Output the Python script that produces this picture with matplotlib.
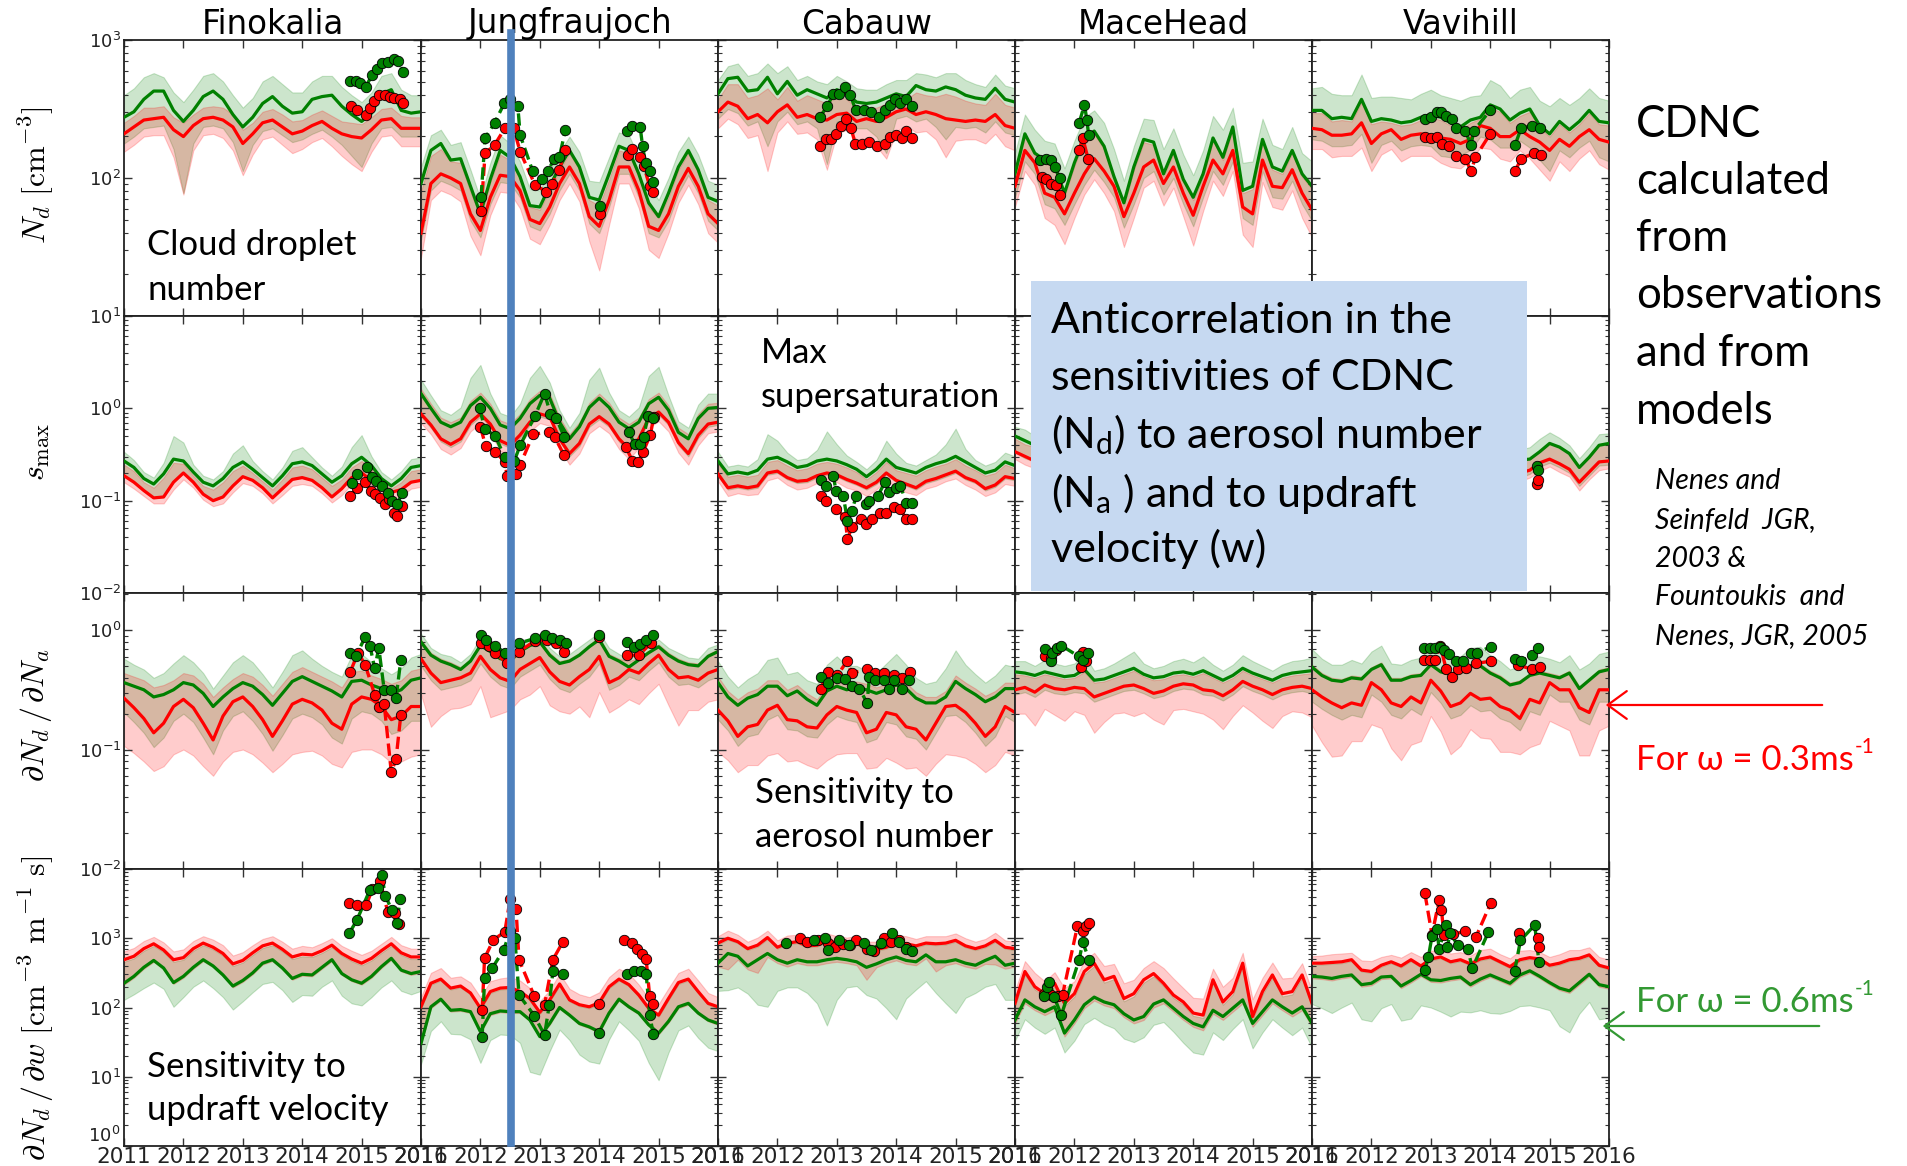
import numpy as np
import matplotlib
matplotlib.use("Agg")
import matplotlib.pyplot as plt
from matplotlib.lines import Line2D
from matplotlib.patches import Rectangle, FancyArrowPatch
from matplotlib.ticker import LogLocator, NullFormatter

plt.rcParams['mathtext.rm'] = 'Lato'
plt.rcParams['mathtext.it'] = 'Lato:italic'
plt.rcParams['mathtext.bf'] = 'Lato:bold'

W, H = 1907, 1166

# bi-monthly model output, Jan 2011 .. Jan 2016
months = 2011 + np.arange(31) / 6

sites = ['fin', 'jun', 'cab', 'mac', 'vav']
titles = ['Finokalia', 'Jungfraujoch', 'Cabauw', 'MaceHead', 'Vavihill']
quantities = ['nd', 'smax', 'sna', 'snw']

# all model values are log10; *_dn / *_up give the log10 spread of the shaded range
# ---------------- N_d [cm-3] ----------------
nd_fin_red = [2.32,2.37,2.42,2.43,2.44,2.35,2.30,2.38,2.43,2.44,2.42,2.37,2.25,2.32,2.40,2.42,2.37,2.32,2.34,2.38,2.41,2.36,2.32,2.30,2.29,2.35,2.42,2.43,2.36,2.36,2.36]
nd_fin_grn = [2.44,2.48,2.57,2.63,2.63,2.49,2.41,2.49,2.59,2.63,2.57,2.46,2.37,2.44,2.54,2.59,2.52,2.47,2.48,2.57,2.59,2.60,2.52,2.46,2.41,2.47,2.61,2.64,2.49,2.47,2.48]
nd_fin_red_up = [.08,.08,.09,.08,.08,.09,.10,.08,.08,.08,.09,.09,.10,.08,.08,.08,.09,.09,.08,.08,.08,.09,.09,.10,.10,.09,.08,.08,.09,.08,.08]
nd_fin_red_dn = [.13,.13,.12,.12,.13,.20,.42,.18,.12,.12,.13,.17,.23,.15,.12,.12,.13,.14,.13,.12,.12,.13,.16,.20,.24,.16,.12,.12,.13,.13,.13]
nd_fin_grn_up = [.16,.17,.16,.13,.10,.13,.14,.15,.15,.13,.13,.14,.14,.14,.16,.15,.16,.15,.14,.13,.15,.14,.14,.14,.14,.15,.13,.12,.15,.13,.12]
nd_fin_grn_dn = [.19,.18,.21,.26,.25,.28,.52,.24,.22,.25,.21,.20,.32,.20,.20,.23,.21,.21,.20,.25,.24,.30,.28,.30,.33,.22,.25,.27,.19,.17,.18]

nd_jun_red = [1.60,1.96,2.03,2.00,1.96,1.74,1.62,1.86,2.02,2.01,1.91,1.70,1.67,1.79,1.96,2.08,1.96,1.72,1.65,1.84,2.08,2.08,1.91,1.65,1.62,1.74,1.94,2.07,1.94,1.74,1.67]
nd_jun_grn = [1.96,2.20,2.25,2.13,2.14,1.94,1.74,1.99,2.20,2.15,2.01,1.80,1.79,1.94,2.08,2.20,2.08,1.86,1.84,2.03,2.23,2.20,2.03,1.82,1.72,1.89,2.08,2.20,2.06,1.86,1.83]
nd_jun_red_up = [.30,.20,.18,.12,.15,.16,.10,.11,.15,.12,.09,.09,.10,.12,.10,.10,.10,.12,.15,.15,.12,.10,.10,.14,.09,.12,.12,.11,.10,.10,.13]
nd_jun_red_dn = [.18,.12,.12,.12,.13,.16,.18,.13,.12,.12,.13,.14,.15,.13,.12,.12,.13,.18,.32,.18,.12,.12,.13,.17,.20,.14,.12,.12,.13,.14,.14]
nd_jun_grn_up = [.12,.11,.10,.11,.12,.12,.11,.12,.11,.10,.11,.12,.12,.11,.11,.10,.11,.12,.13,.12,.10,.11,.12,.13,.12,.11,.11,.10,.11,.12,.12]
nd_jun_grn_dn = [.41,.29,.27,.18,.23,.25,.17,.18,.23,.19,.15,.15,.17,.20,.17,.17,.17,.19,.24,.24,.20,.17,.17,.22,.15,.20,.19,.18,.17,.17,.21]

nd_cab_red = [2.48,2.55,2.52,2.43,2.46,2.40,2.48,2.53,2.44,2.46,2.43,2.42,2.46,2.47,2.41,2.43,2.41,2.44,2.48,2.50,2.46,2.48,2.46,2.43,2.42,2.41,2.42,2.41,2.46,2.38,2.36]
nd_cab_grn = [2.61,2.72,2.73,2.63,2.64,2.73,2.61,2.70,2.60,2.64,2.61,2.58,2.64,2.61,2.55,2.54,2.55,2.58,2.61,2.59,2.67,2.64,2.63,2.66,2.64,2.60,2.58,2.57,2.65,2.57,2.55]
nd_cab_red_up = [.09,.13,.16,.15,.14,.25,.09,.13,.12,.14,.14,.12,.14,.10,.10,.08,.10,.10,.09,.07,.16,.12,.13,.18,.17,.15,.12,.12,.15,.15,.15]
nd_cab_red_dn = [.12,.12,.13,.14,.15,.35,.15,.12,.12,.13,.15,.36,.14,.12,.13,.14,.18,.30,.14,.12,.13,.14,.18,.28,.15,.13,.14,.16,.14,.15,.16]
nd_cab_grn_up = [.10,.09,.10,.11,.12,.10,.15,.11,.11,.10,.09,.10,.10,.09,.10,.10,.09,.10,.10,.12,.09,.11,.10,.10,.12,.11,.10,.09,.10,.10,.10]
nd_cab_grn_dn = [.18,.22,.26,.25,.23,.50,.20,.22,.21,.23,.25,.48,.23,.19,.19,.18,.25,.40,.18,.14,.26,.21,.26,.38,.27,.24,.21,.24,.24,.24,.24]

nd_mac_red = [1.94,2.20,2.11,1.89,1.86,1.74,1.89,2.03,2.14,2.05,1.94,1.72,1.89,2.08,2.13,1.96,2.08,1.89,1.73,1.94,2.13,2.03,2.20,1.79,1.74,2.13,1.94,1.93,2.06,1.89,1.77]
nd_mac_grn = [2.03,2.32,2.18,2.13,2.09,1.89,2.11,2.29,2.34,2.23,2.01,1.82,2.08,2.28,2.26,2.03,2.20,1.99,1.86,2.03,2.29,2.15,2.37,1.91,1.94,2.28,2.08,2.05,2.20,2.03,1.94]
nd_mac_red_up = [.07,.10,.05,.22,.21,.13,.20,.24,.18,.16,.05,.08,.17,.18,.11,.05,.10,.08,.11,.07,.14,.10,.15,.10,.18,.13,.12,.10,.12,.12,.15]
nd_mac_red_dn = [.15,.15,.16,.18,.20,.22,.18,.15,.15,.16,.18,.22,.18,.15,.15,.16,.15,.17,.22,.18,.15,.16,.15,.20,.24,.16,.15,.16,.15,.18,.20]
nd_mac_grn_up = [.15,.14,.17,.14,.16,.18,.16,.15,.15,.17,.20,.16,.15,.15,.16,.18,.16,.18,.16,.17,.16,.20,.14,.20,.18,.15,.16,.16,.17,.15,.18]
nd_mac_grn_dn = [.17,.20,.15,.32,.31,.23,.30,.34,.28,.26,.15,.18,.27,.28,.21,.15,.20,.18,.21,.17,.24,.20,.25,.20,.28,.23,.22,.20,.22,.22,.25]

nd_vav_red = [2.36,2.35,2.31,2.31,2.32,2.40,2.25,2.32,2.35,2.28,2.31,2.32,2.31,2.29,2.28,2.25,2.28,2.38,2.36,2.30,2.30,2.35,2.30,2.26,2.20,2.28,2.23,2.30,2.35,2.28,2.26]
nd_vav_grn = [2.49,2.49,2.43,2.44,2.43,2.57,2.41,2.43,2.42,2.40,2.41,2.44,2.46,2.44,2.40,2.37,2.42,2.44,2.53,2.50,2.42,2.47,2.50,2.38,2.32,2.41,2.35,2.41,2.49,2.41,2.40]
nd_vav_red_up = [.11,.12,.10,.11,.09,.15,.14,.09,.05,.10,.08,.10,.13,.13,.10,.10,.12,.05,.15,.18,.10,.10,.18,.10,.10,.11,.10,.09,.12,.11,.12]
nd_vav_red_dn = [.15,.14,.16,.15,.16,.18,.20,.15,.14,.16,.15,.16,.15,.18,.20,.18,.15,.16,.15,.16,.18,.15,.16,.20,.22,.16,.18,.16,.15,.18,.20]
nd_vav_grn_up = [.16,.17,.18,.16,.17,.18,.17,.16,.17,.18,.16,.17,.18,.16,.18,.19,.17,.16,.18,.17,.16,.17,.16,.18,.20,.17,.18,.17,.16,.17,.16]
nd_vav_grn_dn = [.21,.22,.20,.21,.19,.25,.30,.19,.15,.20,.18,.20,.23,.28,.25,.20,.22,.14,.25,.28,.20,.20,.28,.25,.27,.21,.20,.19,.22,.26,.28]

# ---------------- s_max ----------------
smax_fin_red = [-0.73,-0.80,-0.89,-0.97,-0.96,-0.80,-0.70,-0.80,-0.93,-1.00,-0.96,-0.84,-0.74,-0.78,-0.86,-0.97,-0.87,-0.77,-0.75,-0.78,-0.86,-0.96,-0.87,-0.75,-0.70,-0.78,-0.86,-0.91,-0.88,-0.80,-0.78]
smax_fin_grn = [-0.57,-0.64,-0.76,-0.82,-0.71,-0.55,-0.57,-0.69,-0.80,-0.84,-0.76,-0.64,-0.58,-0.66,-0.75,-0.84,-0.73,-0.60,-0.58,-0.62,-0.71,-0.80,-0.73,-0.60,-0.53,-0.62,-0.76,-0.84,-0.76,-0.64,-0.62]
smax_fin_red_up = [.12,.12,.09,.11,.21,.21,.10,.07,.09,.12,.16,.16,.12,.08,.07,.09,.10,.13,.13,.12,.11,.12,.10,.11,.13,.12,.06,.04,.08,.12,.12]
smax_fin_red_dn = [.07,.07,.06,.06,.07,.08,.07,.06,.06,.06,.07,.07,.07,.06,.06,.06,.07,.07,.07,.06,.06,.06,.07,.07,.07,.06,.06,.06,.07,.07,.07]
smax_fin_grn_up = [.10,.08,.07,.07,.12,.25,.20,.08,.07,.07,.08,.15,.18,.09,.07,.07,.09,.14,.16,.09,.07,.07,.10,.18,.24,.10,.07,.07,.08,.09,.09]
smax_fin_grn_dn = [.16,.16,.13,.15,.25,.25,.13,.11,.13,.16,.20,.20,.16,.12,.11,.13,.14,.17,.17,.16,.15,.16,.14,.15,.17,.16,.10,.07,.12,.16,.16]

smax_jun_red = [-0.06,-0.18,-0.33,-0.39,-0.33,-0.15,-0.06,-0.17,-0.35,-0.40,-0.29,-0.15,-0.06,-0.09,-0.33,-0.49,-0.38,-0.17,-0.09,-0.17,-0.33,-0.44,-0.33,-0.11,-0.04,-0.15,-0.37,-0.49,-0.29,-0.17,-0.15]
smax_jun_grn = [0.16,0.00,-0.15,-0.20,-0.15,0.03,0.12,0.00,-0.18,-0.22,-0.11,0.05,0.14,0.11,-0.15,-0.33,-0.20,0.01,0.11,0.01,-0.15,-0.22,-0.15,0.05,0.12,-0.02,-0.26,-0.33,-0.11,0.00,0.01]
smax_jun_red_up = [.27,.23,.23,.24,.23,.23,.23,.22,.22,.23,.23,.25,.25,.25,.23,.21,.23,.23,.25,.23,.23,.27,.23,.21,.21,.18,.16,.21,.23,.22,.21]
smax_jun_red_dn = [.10,.10,.11,.11,.10,.10,.10,.10,.11,.11,.10,.10,.10,.10,.11,.12,.11,.10,.10,.10,.11,.11,.10,.10,.10,.10,.11,.12,.11,.10,.10]
smax_jun_grn_up = [.15,.14,.13,.13,.16,.30,.35,.16,.13,.13,.16,.28,.32,.17,.13,.12,.15,.30,.33,.16,.13,.13,.16,.30,.33,.16,.12,.12,.15,.16,.15]
smax_jun_grn_dn = [.25,.21,.21,.22,.21,.21,.21,.20,.20,.21,.21,.23,.23,.23,.21,.19,.21,.21,.23,.21,.21,.25,.21,.19,.19,.16,.14,.19,.21,.20,.19]

smax_cab_red = [-0.71,-0.86,-0.84,-0.86,-0.84,-0.70,-0.68,-0.75,-0.79,-0.78,-0.73,-0.70,-0.72,-0.77,-0.81,-0.86,-0.80,-0.70,-0.78,-0.82,-0.86,-0.79,-0.76,-0.72,-0.68,-0.75,-0.79,-0.87,-0.83,-0.74,-0.76]
smax_cab_grn = [-0.57,-0.71,-0.69,-0.71,-0.67,-0.55,-0.53,-0.58,-0.64,-0.62,-0.57,-0.55,-0.57,-0.61,-0.66,-0.74,-0.66,-0.55,-0.64,-0.67,-0.70,-0.64,-0.60,-0.57,-0.52,-0.58,-0.64,-0.70,-0.67,-0.58,-0.62]
smax_cab_red_up = [.11,.12,.12,.12,.12,.12,.12,.13,.12,.13,.13,.12,.12,.13,.12,.09,.11,.12,.11,.12,.13,.12,.13,.12,.13,.13,.12,.14,.13,.13,.11]
smax_cab_red_dn = [.08,.09,.08,.08,.09,.08,.07,.08,.09,.08,.08,.07,.08,.09,.08,.09,.08,.07,.08,.09,.08,.08,.08,.07,.08,.08,.09,.08,.08,.08,.08]
smax_cab_grn_up = [.10,.08,.08,.08,.12,.27,.18,.10,.08,.08,.12,.30,.18,.10,.08,.08,.10,.20,.15,.08,.08,.08,.10,.18,.30,.14,.08,.08,.09,.10,.10]
smax_cab_grn_dn = [.16,.17,.17,.17,.19,.17,.17,.19,.17,.18,.18,.17,.17,.18,.17,.14,.16,.17,.16,.17,.18,.17,.18,.17,.18,.19,.17,.19,.18,.18,.16]

smax_mac_red = [-0.47,-0.52,-0.57,-0.55,-0.50,-0.45,-0.49,-0.55,-0.59,-0.53,-0.47,-0.44,-0.50,-0.57,-0.60,-0.54,-0.48,-0.46,-0.51,-0.58,-0.61,-0.55,-0.48,-0.45,-0.50,-0.56,-0.59,-0.54,-0.48,-0.47,-0.51]
smax_mac_grn = [-0.30,-0.35,-0.40,-0.38,-0.33,-0.28,-0.32,-0.38,-0.42,-0.36,-0.30,-0.27,-0.33,-0.40,-0.43,-0.37,-0.31,-0.29,-0.34,-0.41,-0.44,-0.38,-0.31,-0.28,-0.33,-0.39,-0.42,-0.37,-0.31,-0.30,-0.34]
smax_mac_red_up = [.14,.13,.15,.14,.13,.14,.15,.14,.13,.14,.15,.14,.13,.14,.15,.14,.13,.14,.15,.14,.13,.14,.15,.14,.13,.14,.15,.14,.13,.14,.15]
smax_mac_red_dn = [.08,.09,.08,.09,.08,.09,.08,.09,.08,.09,.08,.09,.08,.09,.08,.09,.08,.09,.08,.09,.08,.09,.08,.09,.08,.09,.08,.09,.08,.09,.08]
smax_mac_grn_up = [.10,.12,.10,.11,.13,.18,.15,.11,.10,.11,.13,.18,.15,.11,.10,.11,.13,.18,.15,.11,.10,.11,.13,.18,.15,.11,.10,.11,.12,.12,.11]
smax_mac_grn_dn = [.18,.19,.18,.19,.18,.19,.18,.19,.18,.19,.18,.19,.18,.19,.18,.19,.18,.19,.18,.19,.18,.19,.18,.19,.18,.19,.18,.19,.18,.19,.18]

smax_vav_red = [-0.60,-0.66,-0.70,-0.68,-0.62,-0.56,-0.58,-0.66,-0.71,-0.68,-0.62,-0.56,-0.58,-0.66,-0.72,-0.68,-0.62,-0.56,-0.58,-0.66,-0.70,-0.70,-0.67,-0.59,-0.55,-0.60,-0.66,-0.80,-0.69,-0.58,-0.57]
smax_vav_grn = [-0.45,-0.50,-0.55,-0.52,-0.47,-0.40,-0.42,-0.50,-0.55,-0.52,-0.46,-0.40,-0.42,-0.50,-0.56,-0.52,-0.46,-0.40,-0.42,-0.50,-0.55,-0.56,-0.55,-0.47,-0.38,-0.42,-0.49,-0.64,-0.53,-0.40,-0.38]
smax_vav_red_up = [.14,.13,.15,.14,.13,.14,.15,.14,.13,.14,.15,.14,.13,.14,.15,.14,.13,.14,.15,.14,.13,.14,.12,.12,.17,.18,.17,.16,.16,.18,.19]
smax_vav_red_dn = [.08,.09,.08,.09,.08,.09,.08,.09,.08,.09,.08,.09,.08,.09,.08,.09,.08,.09,.08,.09,.08,.09,.08,.09,.08,.09,.08,.09,.08,.09,.08]
smax_vav_grn_up = [.10,.12,.10,.11,.13,.18,.15,.11,.10,.11,.13,.18,.15,.11,.10,.11,.13,.18,.15,.11,.10,.11,.13,.14,.12,.10,.09,.10,.11,.12,.11]
smax_vav_grn_dn = [.18,.19,.18,.19,.18,.19,.18,.19,.18,.19,.18,.19,.18,.19,.18,.19,.18,.19,.18,.19,.18,.19,.16,.16,.21,.22,.21,.20,.20,.22,.23]

# ---------------- dN_d / dN_a ----------------
sna_fin_red = [-0.57,-0.65,-0.74,-0.86,-0.78,-0.64,-0.58,-0.65,-0.78,-0.92,-0.72,-0.60,-0.56,-0.64,-0.75,-0.89,-0.76,-0.62,-0.58,-0.61,-0.67,-0.78,-0.83,-0.62,-0.56,-0.58,-0.64,-0.75,-0.72,-0.64,-0.64]
sna_fin_grn = [-0.44,-0.47,-0.50,-0.56,-0.54,-0.50,-0.44,-0.46,-0.53,-0.64,-0.56,-0.49,-0.44,-0.47,-0.54,-0.63,-0.53,-0.43,-0.39,-0.43,-0.47,-0.51,-0.56,-0.43,-0.42,-0.46,-0.49,-0.53,-0.50,-0.42,-0.40]
sna_fin_red_up = [.21,.26,.32,.38,.32,.22,.22,.27,.33,.36,.24,.19,.20,.25,.29,.34,.31,.27,.27,.26,.28,.35,.35,.27,.22,.20,.23,.30,.30,.30,.32]
sna_fin_red_dn = [.40,.38,.36,.32,.36,.40,.42,.40,.36,.30,.38,.42,.44,.40,.36,.30,.36,.42,.44,.40,.38,.34,.32,.40,.44,.42,.40,.36,.38,.42,.40]
sna_fin_grn_up = [.20,.18,.17,.16,.18,.22,.23,.19,.17,.15,.18,.22,.23,.20,.17,.15,.18,.22,.22,.19,.17,.16,.17,.22,.22,.19,.17,.16,.18,.19,.20]
sna_fin_grn_dn = [.25,.30,.36,.42,.36,.26,.26,.31,.37,.40,.28,.23,.24,.29,.33,.38,.35,.31,.31,.30,.32,.39,.39,.31,.26,.24,.27,.34,.34,.34,.36]

sna_jun_red = [-0.24,-0.36,-0.44,-0.42,-0.40,-0.36,-0.22,-0.33,-0.40,-0.43,-0.33,-0.28,-0.23,-0.35,-0.43,-0.46,-0.39,-0.33,-0.22,-0.44,-0.40,-0.33,-0.36,-0.28,-0.21,-0.33,-0.40,-0.39,-0.42,-0.36,-0.33]
sna_jun_grn = [-0.10,-0.21,-0.26,-0.29,-0.33,-0.26,-0.13,-0.18,-0.24,-0.26,-0.18,-0.13,-0.10,-0.21,-0.28,-0.26,-0.21,-0.14,-0.08,-0.22,-0.26,-0.31,-0.25,-0.19,-0.14,-0.21,-0.26,-0.29,-0.30,-0.22,-0.18]
sna_jun_red_up = [.16,.17,.20,.15,.09,.12,.11,.17,.18,.19,.17,.17,.15,.16,.17,.22,.20,.21,.16,.24,.16,.07,.13,.11,.09,.14,.16,.12,.14,.16,.17]
sna_jun_red_dn = [.30,.45,.28,.24,.25,.26,.25,.40,.30,.24,.25,.26,.24,.28,.25,.24,.25,.40,.30,.25,.24,.25,.26,.25,.24,.30,.40,.28,.25,.24,.25]
sna_jun_grn_up = [.07,.06,.06,.07,.06,.06,.07,.06,.06,.07,.06,.06,.07,.06,.06,.06,.07,.06,.06,.07,.06,.06,.07,.06,.06,.06,.07,.06,.06,.07,.06]
sna_jun_grn_dn = [.20,.21,.24,.19,.13,.16,.15,.21,.22,.23,.21,.21,.19,.20,.21,.26,.24,.25,.20,.28,.20,.08,.17,.15,.13,.18,.20,.16,.18,.20,.21]

sna_cab_red = [-0.67,-0.76,-0.89,-0.81,-0.79,-0.67,-0.63,-0.75,-0.76,-0.81,-0.82,-0.71,-0.64,-0.67,-0.69,-0.86,-0.83,-0.69,-0.71,-0.81,-0.83,-0.92,-0.78,-0.64,-0.63,-0.69,-0.78,-0.89,-0.81,-0.64,-0.69]
sna_cab_grn = [-0.44,-0.56,-0.63,-0.57,-0.54,-0.47,-0.47,-0.55,-0.51,-0.58,-0.63,-0.51,-0.47,-0.50,-0.48,-0.50,-0.53,-0.50,-0.46,-0.49,-0.57,-0.61,-0.61,-0.56,-0.43,-0.49,-0.54,-0.60,-0.56,-0.49,-0.49]
sna_cab_red_up = [.28,.25,.31,.29,.30,.25,.21,.25,.30,.28,.24,.25,.22,.22,.26,.41,.35,.24,.30,.37,.31,.36,.22,.13,.25,.25,.29,.34,.30,.20,.25]
sna_cab_red_dn = [.35,.33,.30,.32,.34,.38,.40,.35,.33,.32,.34,.38,.40,.36,.34,.30,.32,.38,.40,.35,.32,.30,.34,.40,.42,.38,.34,.30,.32,.38,.36]
sna_cab_grn_up = [.18,.17,.15,.16,.18,.22,.24,.18,.16,.16,.18,.22,.25,.20,.18,.16,.17,.22,.26,.20,.17,.16,.18,.24,.26,.20,.17,.16,.18,.20,.18]
sna_cab_grn_dn = [.31,.28,.34,.32,.33,.28,.24,.28,.33,.31,.27,.28,.25,.25,.29,.44,.38,.27,.33,.40,.34,.39,.25,.16,.28,.28,.32,.37,.33,.23,.28]

sna_mac_red = [-0.50,-0.48,-0.52,-0.46,-0.49,-0.50,-0.48,-0.49,-0.56,-0.53,-0.50,-0.47,-0.46,-0.49,-0.53,-0.51,-0.47,-0.45,-0.46,-0.50,-0.51,-0.55,-0.50,-0.43,-0.47,-0.50,-0.54,-0.50,-0.48,-0.47,-0.49]
sna_mac_grn = [-0.35,-0.36,-0.38,-0.35,-0.37,-0.39,-0.38,-0.33,-0.42,-0.41,-0.38,-0.35,-0.32,-0.37,-0.40,-0.39,-0.36,-0.35,-0.37,-0.34,-0.38,-0.42,-0.38,-0.32,-0.36,-0.39,-0.42,-0.38,-0.36,-0.35,-0.34]
sna_mac_red_up = [.13,.10,.12,.09,.10,.09,.08,.14,.12,.10,.10,.10,.12,.10,.11,.10,.09,.08,.07,.14,.11,.11,.10,.09,.09,.09,.10,.10,.10,.10,.13]
sna_mac_red_dn = [.20,.22,.28,.20,.22,.26,.20,.22,.30,.24,.20,.22,.26,.20,.22,.28,.20,.21,.22,.20,.24,.28,.22,.20,.22,.26,.28,.22,.20,.22,.24]
sna_mac_grn_up = [.09,.10,.08,.10,.09,.09,.10,.12,.08,.09,.10,.12,.14,.09,.08,.09,.10,.11,.10,.12,.09,.08,.09,.11,.10,.09,.08,.09,.10,.10,.11]
sna_mac_grn_dn = [.19,.16,.18,.15,.16,.15,.14,.20,.18,.16,.16,.16,.18,.16,.17,.16,.15,.14,.13,.20,.17,.17,.16,.15,.15,.15,.16,.16,.16,.16,.19]

sna_vav_red = [-0.50,-0.56,-0.61,-0.65,-0.61,-0.63,-0.44,-0.50,-0.61,-0.64,-0.56,-0.61,-0.42,-0.51,-0.64,-0.61,-0.53,-0.58,-0.57,-0.64,-0.67,-0.74,-0.58,-0.61,-0.44,-0.50,-0.50,-0.65,-0.69,-0.50,-0.50]
sna_vav_grn = [-0.31,-0.38,-0.42,-0.43,-0.40,-0.41,-0.33,-0.29,-0.42,-0.42,-0.39,-0.38,-0.29,-0.35,-0.37,-0.35,-0.30,-0.30,-0.36,-0.40,-0.46,-0.44,-0.38,-0.36,-0.38,-0.40,-0.36,-0.49,-0.42,-0.35,-0.33]
sna_vav_red_up = [.21,.20,.21,.24,.23,.24,.13,.23,.21,.24,.19,.25,.15,.18,.29,.28,.25,.30,.23,.26,.23,.32,.22,.27,.08,.12,.16,.18,.29,.17,.19]
sna_vav_red_dn = [.30,.38,.45,.40,.32,.30,.35,.32,.38,.45,.40,.32,.30,.34,.40,.36,.30,.32,.34,.38,.35,.30,.40,.34,.32,.30,.34,.40,.36,.34,.30]
sna_vav_grn_up = [.15,.14,.13,.14,.15,.13,.15,.16,.14,.13,.14,.15,.16,.15,.14,.13,.15,.16,.15,.14,.13,.14,.15,.14,.14,.13,.15,.16,.14,.15,.15]
sna_vav_grn_dn = [.29,.28,.29,.32,.31,.32,.21,.31,.29,.32,.27,.33,.23,.26,.37,.36,.33,.38,.31,.34,.31,.40,.30,.35,.16,.20,.24,.26,.37,.25,.27]

# ---------------- dN_d / dw ----------------
snw_fin_red = [2.69,2.74,2.85,2.92,2.83,2.69,2.72,2.85,2.93,2.87,2.78,2.63,2.68,2.79,2.89,2.93,2.84,2.73,2.77,2.76,2.82,2.90,2.78,2.70,2.64,2.71,2.82,2.92,2.79,2.73,2.73]
snw_fin_grn = [2.35,2.45,2.58,2.68,2.57,2.36,2.45,2.58,2.69,2.60,2.47,2.31,2.39,2.50,2.64,2.69,2.57,2.42,2.48,2.47,2.58,2.69,2.49,2.40,2.35,2.45,2.59,2.71,2.54,2.49,2.52]
snw_fin_red_up = [.12,.12,.11,.10,.11,.12,.12,.11,.10,.11,.12,.12,.12,.11,.10,.10,.11,.12,.12,.11,.11,.10,.11,.12,.12,.11,.10,.10,.11,.12,.12]
snw_fin_red_dn = [.36,.31,.29,.26,.28,.35,.29,.29,.26,.29,.33,.34,.31,.31,.27,.26,.29,.33,.31,.31,.26,.23,.31,.32,.31,.28,.25,.23,.27,.26,.23]
snw_fin_grn_up = [.31,.26,.24,.21,.23,.30,.24,.24,.21,.24,.28,.29,.26,.26,.22,.21,.24,.28,.26,.26,.21,.18,.26,.27,.26,.23,.20,.18,.22,.21,.18]
snw_fin_grn_dn = [.24,.26,.30,.32,.30,.35,.30,.28,.30,.32,.32,.34,.30,.28,.30,.32,.32,.34,.30,.30,.28,.30,.32,.34,.32,.30,.30,.32,.30,.30,.28]

snw_jun_red = [2.01,2.35,2.41,2.28,2.31,2.21,1.99,2.23,2.28,2.29,2.23,2.13,1.93,2.11,2.34,2.11,2.04,2.01,2.07,2.30,2.41,2.33,2.18,1.99,1.89,2.13,2.36,2.41,2.23,2.06,2.01]
snw_jun_grn = [1.48,2.01,2.12,1.96,1.97,1.94,1.65,1.91,1.95,1.94,1.94,1.82,1.58,1.77,2.00,1.89,1.77,1.72,1.65,1.92,2.12,2.01,1.92,1.75,1.63,1.80,2.01,2.06,1.92,1.82,1.77]
snw_jun_red_up = [.14,.15,.16,.15,.14,.15,.16,.15,.14,.15,.16,.15,.16,.14,.15,.16,.15,.14,.15,.14,.15,.16,.15,.14,.16,.15,.14,.15,.16,.15,.14]
snw_jun_red_dn = [.55,.36,.31,.34,.36,.29,.36,.34,.35,.37,.31,.33,.37,.36,.36,.24,.29,.31,.44,.40,.31,.34,.28,.26,.28,.35,.37,.37,.33,.26,.26]
snw_jun_grn_up = [.51,.32,.27,.30,.32,.25,.32,.30,.31,.33,.27,.29,.33,.32,.32,.20,.25,.27,.40,.36,.27,.30,.24,.22,.24,.31,.33,.33,.29,.22,.22]
snw_jun_grn_dn = [.30,.35,.32,.34,.36,.40,.45,.38,.34,.34,.45,.75,.55,.40,.32,.36,.45,.50,.46,.38,.32,.34,.40,.55,.68,.45,.34,.32,.36,.40,.40]

snw_cab_red = [2.93,3.00,2.95,2.85,2.90,3.01,2.87,2.93,2.95,2.89,2.90,2.97,2.93,2.90,2.93,2.85,2.84,2.87,2.95,2.92,2.89,2.93,2.92,2.93,2.97,2.89,2.85,2.89,2.97,2.87,2.85]
snw_cab_grn = [2.64,2.78,2.74,2.60,2.69,2.78,2.69,2.64,2.69,2.66,2.66,2.69,2.71,2.69,2.66,2.58,2.63,2.69,2.73,2.68,2.66,2.76,2.66,2.66,2.69,2.64,2.61,2.68,2.74,2.61,2.64]
snw_cab_red_up = [.10,.11,.10,.10,.11,.10,.10,.11,.10,.10,.11,.10,.10,.11,.10,.10,.11,.10,.10,.11,.10,.10,.11,.10,.10,.11,.10,.10,.11,.10,.10]
snw_cab_red_dn = [.34,.45,.26,.30,.40,.28,.23,.34,.31,.28,.29,.33,.27,.26,.32,.45,.26,.23,.27,.29,.28,.22,.40,.32,.33,.30,.29,.26,.35,.31,.26]
snw_cab_grn_up = [.27,.20,.19,.23,.19,.21,.16,.27,.24,.21,.22,.26,.20,.19,.25,.25,.19,.16,.20,.22,.21,.15,.24,.25,.26,.23,.22,.19,.21,.24,.19]
snw_cab_grn_dn = [.40,.53,.45,.40,.65,.77,.45,.35,.40,.45,.60,.95,.60,.40,.35,.40,.50,.70,.90,.55,.40,.38,.45,.60,.77,.50,.40,.38,.40,.50,.53]

snw_mac_red = [2.06,2.52,2.30,2.20,2.35,2.06,2.20,2.52,2.64,2.40,2.45,2.13,2.20,2.40,2.49,2.35,2.18,2.08,1.92,1.89,2.40,2.08,2.23,2.64,1.87,2.23,2.47,2.20,2.23,2.47,2.06]
snw_mac_grn = [1.82,2.11,2.01,1.94,2.01,1.63,1.82,2.04,2.15,2.08,2.04,1.91,1.82,1.87,2.05,2.11,1.99,1.87,1.77,1.72,1.96,1.87,1.99,2.11,1.77,1.94,2.11,2.01,1.92,2.01,1.77]
snw_mac_red_up = [.18,.15,.20,.18,.16,.22,.18,.16,.15,.20,.18,.22,.20,.17,.18,.22,.24,.20,.22,.24,.16,.22,.20,.15,.25,.20,.18,.22,.20,.17,.18]
snw_mac_red_dn = [.29,.46,.34,.31,.39,.48,.43,.53,.54,.37,.46,.27,.43,.58,.49,.29,.24,.26,.20,.22,.49,.26,.29,.58,.15,.34,.41,.24,.36,.51,.34]
snw_mac_grn_up = [.20,.37,.25,.22,.30,.39,.34,.44,.45,.28,.37,.18,.34,.49,.40,.20,.15,.17,.11,.13,.40,.17,.20,.49,.06,.25,.32,.15,.27,.42,.25]
snw_mac_grn_dn = [.30,.28,.30,.32,.30,.28,.30,.28,.30,.32,.34,.36,.32,.30,.30,.32,.34,.38,.42,.40,.32,.34,.30,.28,.36,.30,.28,.30,.32,.30,.35]

snw_vav_red = [2.64,2.64,2.65,2.66,2.69,2.54,2.52,2.61,2.66,2.60,2.69,2.60,2.70,2.73,2.66,2.69,2.63,2.70,2.73,2.66,2.59,2.69,2.72,2.70,2.61,2.64,2.69,2.71,2.76,2.61,2.57]
snw_vav_grn = [2.45,2.44,2.42,2.45,2.47,2.33,2.35,2.44,2.45,2.31,2.39,2.48,2.40,2.39,2.42,2.44,2.33,2.41,2.47,2.41,2.35,2.47,2.53,2.45,2.36,2.28,2.24,2.36,2.48,2.33,2.30]
snw_vav_red_up = [.10,.11,.12,.12,.10,.14,.15,.12,.10,.12,.11,.13,.12,.10,.12,.11,.12,.13,.12,.11,.12,.13,.11,.10,.12,.13,.14,.12,.11,.12,.12]
snw_vav_red_dn = [.22,.23,.26,.24,.25,.24,.20,.20,.24,.32,.33,.15,.33,.37,.27,.28,.33,.32,.29,.28,.27,.25,.22,.28,.28,.39,.48,.38,.31,.31,.30]
snw_vav_grn_up = [.17,.18,.21,.19,.20,.19,.15,.15,.19,.27,.28,.10,.28,.32,.22,.23,.28,.27,.24,.23,.22,.20,.17,.23,.23,.34,.43,.33,.26,.26,.25]
snw_vav_grn_dn = [.40,.45,.50,.45,.40,.50,.55,.45,.40,.50,.55,.45,.40,.45,.55,.50,.40,.45,.55,.50,.40,.45,.50,.45,.40,.55,.60,.45,.40,.50,.45]

# ---------------- observation-based values (time, log10) ----------------
nd_fin_obs_red = [(2014.82,2.52),(2014.92,2.49),(2015.07,2.46),(2015.14,2.51),(2015.21,2.56),(2015.30,2.60),(2015.40,2.60),(2015.48,2.59),(2015.55,2.58),(2015.64,2.57),(2015.70,2.54)]
nd_fin_obs_grn = [(2014.80,2.70),(2014.90,2.70),(2014.97,2.69),(2015.07,2.66),(2015.18,2.75),(2015.26,2.79),(2015.35,2.83),(2015.45,2.84),(2015.54,2.86),(2015.62,2.85),(2015.69,2.77)]
nd_jun_obs_red = [(2012.01,1.76),(2012.08,2.18),(2012.24,2.24),(2012.41,2.36),(2012.56,2.36),(2012.67,2.19),(2012.92,1.95),(2013.11,1.90),(2013.21,1.96),(2013.33,2.06),(2013.43,2.20),(2014.01,1.74),(2014.49,2.17),(2014.56,2.21),(2014.69,2.15),(2014.75,2.09),(2014.85,1.94),(2014.91,1.90)]
nd_jun_obs_grn = [(2012.01,1.86),(2012.08,2.29),(2012.24,2.40),(2012.40,2.54),(2012.50,2.57),(2012.63,2.52),(2012.67,2.31),(2012.88,2.05),(2013.04,1.99),(2013.14,2.05),(2013.24,2.14),(2013.33,2.15),(2013.43,2.35),(2014.01,1.80),(2014.46,2.34),(2014.56,2.38),(2014.69,2.37),(2014.73,2.23),(2014.78,2.11),(2014.85,2.05),(2014.91,1.97)]
nd_cab_obs_red = [(2012.71,2.23),(2012.81,2.28),(2012.91,2.28),(2012.99,2.32),(2013.07,2.38),(2013.16,2.43),(2013.24,2.36),(2013.31,2.25),(2013.42,2.25),(2013.55,2.26),(2013.68,2.23),(2013.81,2.25),(2013.90,2.30),(2014.00,2.31),(2014.10,2.29),(2014.17,2.34),(2014.26,2.29)]
nd_cab_obs_grn = [(2012.71,2.44),(2012.84,2.52),(2012.94,2.61),(2013.03,2.61),(2013.13,2.66),(2013.23,2.60),(2013.32,2.49),(2013.45,2.49),(2013.58,2.48),(2013.71,2.44),(2013.81,2.49),(2013.90,2.53),(2013.98,2.57),(2014.07,2.54),(2014.16,2.57),(2014.26,2.52)]
nd_mac_obs_red = [(2011.45,2.01),(2011.53,1.99),(2011.61,1.96),(2011.69,1.95),(2011.75,1.88),(2012.08,2.20),(2012.14,2.29),(2012.23,2.14)]
nd_mac_obs_grn = [(2011.42,2.13),(2011.52,2.14),(2011.60,2.13),(2011.68,2.08),(2011.75,2.00),(2012.08,2.40),(2012.17,2.53),(2012.21,2.42),(2012.24,2.31)]
nd_vav_obs_red = [(2012.90,2.30),(2013.00,2.29),(2013.10,2.30),(2013.19,2.25),(2013.30,2.23),(2013.42,2.16),(2013.58,2.14),(2013.68,2.05),(2013.75,2.15),(2014.00,2.32),(2014.42,2.05),(2014.52,2.14),(2014.74,2.18),(2014.85,2.17)]
nd_vav_obs_grn = [(2012.90,2.43),(2013.00,2.44),(2013.10,2.48),(2013.17,2.48),(2013.26,2.45),(2013.35,2.43),(2013.42,2.36),(2013.58,2.34),(2013.68,2.24),(2013.72,2.34),(2014.00,2.49),(2014.42,2.24),(2014.52,2.36),(2014.71,2.38),(2014.83,2.36)]

smax_fin_obs_red = [(2014.80,-0.95),(2014.93,-0.86),(2015.06,-0.80),(2015.15,-0.89),(2015.23,-0.93),(2015.31,-0.97),(2015.39,-1.04),(2015.46,-0.98),(2015.54,-1.13),(2015.60,-1.17),(2015.68,-1.06)]
smax_fin_obs_grn = [(2014.83,-0.81),(2014.93,-0.71),(2015.09,-0.64),(2015.17,-0.74),(2015.25,-0.79),(2015.35,-0.84),(2015.44,-0.92),(2015.52,-1.00),(2015.60,-1.04),(2015.68,-0.92)]
smax_jun_obs_red = [(2012.00,-0.20),(2012.09,-0.41),(2012.25,-0.47),(2012.41,-0.58),(2012.45,-0.73),(2012.60,-0.71),(2012.67,-0.61),(2012.89,-0.28),(2013.15,-0.26),(2013.25,-0.31),(2013.41,-0.51),(2014.45,-0.42),(2014.56,-0.57),(2014.66,-0.58),(2014.74,-0.47),(2014.86,-0.29),(2014.92,-0.09)]
smax_jun_obs_grn = [(2011.99,0.00),(2012.07,-0.22),(2012.25,-0.30),(2012.41,-0.53),(2012.57,-0.57),(2012.67,-0.40),(2012.92,-0.08),(2013.08,0.16),(2013.18,-0.06),(2013.28,-0.11),(2013.41,-0.31),(2014.50,-0.26),(2014.60,-0.39),(2014.69,-0.39),(2014.75,-0.31),(2014.82,-0.08),(2014.90,-0.11)]
smax_cab_obs_red = [(2012.73,-0.95),(2012.82,-1.00),(2012.99,-1.09),(2013.14,-1.18),(2013.18,-1.42),(2013.25,-1.29),(2013.40,-1.20),(2013.49,-1.25),(2013.59,-1.20),(2013.73,-1.13),(2013.83,-1.13),(2013.97,-1.07),(2014.07,-1.09),(2014.17,-1.20),(2014.26,-1.20)]
smax_cab_obs_grn = [(2012.73,-0.78),(2012.82,-0.84),(2012.94,-0.73),(2012.99,-0.90),(2013.11,-0.95),(2013.18,-1.22),(2013.25,-1.11),(2013.33,-0.95),(2013.49,-1.04),(2013.54,-1.00),(2013.69,-0.95),(2013.81,-0.80),(2013.88,-0.91),(2014.00,-0.86),(2014.07,-0.84),(2014.17,-1.02),(2014.26,-1.02)]
smax_mac_obs_red = []
smax_mac_obs_grn = []
smax_vav_obs_red = [(2014.78,-0.82),(2014.80,-0.78)]
smax_vav_obs_grn = [(2014.78,-0.62),(2014.80,-0.67)]

sna_fin_obs_red = [(2014.81,-0.35),(2014.94,-0.19),(2015.06,-0.29),(2015.22,-0.54),(2015.30,-0.64),(2015.38,-0.62),(2015.50,-1.19),(2015.58,-1.08),(2015.66,-0.71)]
sna_fin_obs_grn = [(2014.81,-0.19),(2014.90,-0.22),(2015.06,-0.06),(2015.14,-0.13),(2015.22,-0.32),(2015.29,-0.15),(2015.38,-0.50),(2015.50,-0.50),(2015.58,-0.57),(2015.66,-0.25)]
sna_jun_obs_red = [(2012.01,-0.11),(2012.15,-0.13),(2012.25,-0.19),(2012.45,-0.28),(2012.65,-0.18),(2012.92,-0.09),(2013.12,-0.08),(2013.28,-0.11),(2013.41,-0.18),(2014.00,-0.06),(2014.47,-0.21),(2014.67,-0.21),(2014.87,-0.11)]
sna_jun_obs_grn = [(2012.01,-0.04),(2012.09,-0.08),(2012.25,-0.13),(2012.41,-0.19),(2012.65,-0.11),(2012.92,-0.07),(2013.08,-0.04),(2013.20,-0.07),(2013.34,-0.08),(2013.44,-0.11),(2014.00,-0.04),(2014.47,-0.10),(2014.59,-0.14),(2014.69,-0.12),(2014.79,-0.08),(2014.91,-0.04)]
sna_cab_obs_red = [(2012.73,-0.49),(2012.85,-0.35),(2013.01,-0.38),(2013.17,-0.26),(2013.25,-0.36),(2013.51,-0.33),(2013.65,-0.36),(2013.80,-0.36),(2013.96,-0.38),(2014.09,-0.40),(2014.23,-0.35)]
sna_cab_obs_grn = [(2012.73,-0.39),(2012.85,-0.44),(2013.01,-0.40),(2013.13,-0.41),(2013.25,-0.47),(2013.38,-0.49),(2013.51,-0.61),(2013.55,-0.39),(2013.65,-0.42),(2013.80,-0.42),(2013.88,-0.49),(2013.96,-0.42),(2014.09,-0.49),(2014.21,-0.42)]
sna_mac_obs_red = [(2011.51,-0.22),(2011.60,-0.23),(2011.69,-0.17),(2012.11,-0.31),(2012.15,-0.18),(2012.19,-0.26)]
sna_mac_obs_grn = [(2011.51,-0.16),(2011.60,-0.26),(2011.63,-0.19),(2011.71,-0.15),(2011.78,-0.13),(2012.07,-0.22),(2012.15,-0.25),(2012.23,-0.19)]
sna_vav_obs_red = [(2012.89,-0.25),(2012.99,-0.25),(2013.07,-0.25),(2013.16,-0.13),(2013.26,-0.33),(2013.36,-0.39),(2013.45,-0.33),(2013.60,-0.32),(2013.76,-0.28),(2014.01,-0.26),(2014.46,-0.29),(2014.71,-0.33),(2014.83,-0.31)]
sna_vav_obs_grn = [(2012.89,-0.15),(2012.99,-0.15),(2013.07,-0.15),(2013.16,-0.14),(2013.22,-0.17),(2013.31,-0.20),(2013.43,-0.26),(2013.55,-0.26),(2013.68,-0.19),(2013.78,-0.19),(2014.01,-0.14),(2014.42,-0.24),(2014.52,-0.26),(2014.71,-0.21),(2014.81,-0.15)]

snw_fin_obs_red = [(2014.79,3.51),(2014.92,3.48),(2015.08,3.48),(2015.18,3.71),(2015.31,3.83),(2015.44,3.38),(2015.57,3.36),(2015.63,3.21)]
snw_fin_obs_grn = [(2014.79,3.07),(2014.92,3.26),(2015.14,3.70),(2015.27,3.72),(2015.34,3.91),(2015.40,3.61),(2015.51,3.41),(2015.59,3.22),(2015.65,3.56)]
snw_jun_obs_red = [(2012.03,1.96),(2012.07,2.71),(2012.22,2.98),(2012.41,3.09),(2012.50,3.56),(2012.60,3.42),(2012.65,2.69),(2012.91,2.16),(2013.08,2.04),(2013.22,2.69),(2013.39,2.95),(2013.99,2.05),(2014.42,2.97),(2014.55,2.93),(2014.63,2.85),(2014.72,2.77),(2014.79,2.70),(2014.85,2.16),(2014.91,2.05)]
snw_jun_obs_grn = [(2012.03,1.58),(2012.07,2.42),(2012.20,2.57),(2012.39,2.83),(2012.50,3.10),(2012.58,3.00),(2012.65,2.18),(2012.91,1.88),(2013.08,1.60),(2013.16,2.04),(2013.22,2.52),(2013.39,2.49),(2013.99,1.63),(2014.46,2.49),(2014.59,2.52),(2014.70,2.52),(2014.79,2.49),(2014.85,1.89),(2014.91,1.62)]
snw_cab_obs_red = [(2012.38,3.00),(2012.50,2.95),(2012.68,2.97),(2012.85,2.93),(2012.97,2.87),(2013.10,2.92),(2013.22,2.90),(2013.33,2.97),(2013.51,2.85),(2013.63,2.81),(2013.80,3.00),(2013.92,2.94),(2014.04,2.97),(2014.16,2.88)]
snw_cab_obs_grn = [(2012.15,2.93),(2012.62,2.98),(2012.80,3.00),(2012.85,2.83),(2013.03,2.97),(2013.21,2.90),(2013.45,2.93),(2013.57,2.83),(2013.75,2.93),(2013.93,3.07),(2014.04,2.95),(2014.16,2.85),(2014.26,2.81)]
snw_mac_obs_red = [(2011.48,2.20),(2011.60,2.18),(2011.72,2.16),(2011.80,2.18),(2012.05,3.17),(2012.14,3.11),(2012.19,3.18),(2012.25,3.22)]
snw_mac_obs_grn = [(2011.48,2.17),(2011.54,2.30),(2011.58,2.37),(2011.66,2.15),(2011.78,1.89),(2012.08,2.69),(2012.14,2.94),(2012.25,2.69)]
snw_vav_obs_red = [(2012.90,3.65),(2013.02,3.05),(2013.14,3.55),(2013.18,3.41),(2013.22,3.05),(2013.38,3.06),(2013.58,3.10),(2013.76,3.02),(2014.01,3.51),(2014.48,3.08),(2014.80,3.01),(2014.82,2.87)]
snw_vav_obs_grn = [(2012.90,2.54),(2012.96,2.73),(2013.02,3.03),(2013.10,3.14),(2013.14,2.85),(2013.26,3.19),(2013.28,2.87),(2013.32,3.07),(2013.46,2.90),(2013.62,2.85),(2013.70,2.57),(2013.97,3.09),(2014.41,2.52),(2014.51,2.97),(2014.75,3.19),(2014.82,2.66)]

ylims = [(10, 1000), (0.01, 10), (0.01, 10 ** 0.31), (1, 1e4)]
yticks = [[10, 100, 1000], [0.01, 0.1, 1, 10], [0.01, 0.1, 1], [1, 10, 100, 1000, 1e4]]
# the bottom-left 10^0 is placed by hand, just above the year labels
ytick_labels = [[r'$10^{1}$', r'$10^{2}$', r'$10^{3}$'],
                [r'$10^{-2}$', r'$10^{-1}$', r'$10^{0}$', ''],
                [r'$10^{-2}$', r'$10^{-1}$', r'$10^{0}$'],
                ['', r'$10^{1}$', r'$10^{2}$', r'$10^{3}$', '']]
ylabels = [r'$N_d\ [\mathrm{cm}^{-3}]$', r'$s_{\max}$', r'$\partial N_d\,/\,\partial N_a$',
           r'$\partial N_d\,/\,\partial w\ [\mathrm{cm}^{-3}\ \mathrm{m}^{-1}\ \mathrm{s}]$']
years = [2011, 2012, 2013, 2014, 2015, 2016]

# panel edges in pixels
col_x = [124, 421, 718, 1015, 1312, 1609]
row_y = [40, 316, 593, 869, 1146]

RED, GRN = '#ff0000', '#008000'


def draw_obs(ax, obs, color):
    if not obs:
        return
    t, v = np.array(sorted(obs)).T
    cuts = np.where(np.diff(t) > 0.3)[0] + 1
    for st, sv in zip(np.split(t, cuts), np.split(v, cuts)):
        ax.plot(st, 10 ** sv, ls='--', lw=2.4, color=color, zorder=4)
    ax.plot(t, 10 ** v, 'o', ms=7.5, mfc=color, mec='k', mew=0.6, zorder=5)


def draw_panel(ax, q, s):
    g = globals()
    red = np.array(g[f'{q}_{s}_red'])
    grn = np.array(g[f'{q}_{s}_grn'])
    rdn, rup = np.array(g[f'{q}_{s}_red_dn']), np.array(g[f'{q}_{s}_red_up'])
    gdn, gup = np.array(g[f'{q}_{s}_grn_dn']), np.array(g[f'{q}_{s}_grn_up'])
    ax.fill_between(months, 10 ** (grn - gdn), 10 ** (grn + gup), color=GRN, alpha=0.2, lw=0.8)
    ax.fill_between(months, 10 ** (red - rdn), 10 ** (red + rup), color=RED, alpha=0.2, lw=0.8)
    ax.plot(months, 10 ** grn, color=GRN, lw=2.3, zorder=3)
    ax.plot(months, 10 ** red, color=RED, lw=2.3, zorder=3)
    draw_obs(ax, g[f'{q}_{s}_obs_red'], RED)
    draw_obs(ax, g[f'{q}_{s}_obs_grn'], GRN)


fig = plt.figure(figsize=(W / 100, H / 100), dpi=100)

for r, q in enumerate(quantities):
    for c, s in enumerate(sites):
        x0, x1 = col_x[c], col_x[c + 1]
        y0, y1 = row_y[r], row_y[r + 1]
        ax = fig.add_axes([x0 / W, 1 - y1 / H, (x1 - x0) / W, (y1 - y0) / H])
        draw_panel(ax, q, s)
        ax.set_yscale('log')
        ax.set_ylim(*ylims[r])
        ax.set_xlim(2011, 2016)
        ax.set_yticks(yticks[r])
        ax.yaxis.set_minor_locator(LogLocator(base=10, subs=np.arange(2, 10), numticks=20))
        ax.yaxis.set_minor_formatter(NullFormatter())
        ax.set_xticks(years)
        if c == 0:
            ax.set_yticklabels(ytick_labels[r], fontsize=13, color='#222222',
                               math_fontfamily='dejavusans')
        else:
            ax.set_yticklabels([])
        if r == 3:
            ax.set_xticklabels([str(y) for y in years], fontsize=15.5, color='#222222')
        else:
            ax.set_xticklabels([])
        ax.tick_params(which='both', direction='in', top=True, right=True, color='#333333')
        ax.tick_params(which='major', length=6, width=1, pad=2)
        ax.tick_params(which='minor', length=3, width=0.8)
        ax.tick_params(axis='x', pad=1)
        for sp in ax.spines.values():
            sp.set_linewidth(1.3)
            sp.set_color('#222222')


def px(x, y):
    return x / W, 1 - y / H


fig.text(*px(120, 1136), r'$10^{0}$', ha='right', va='center', fontsize=13, color='#222222',
         math_fontfamily='dejavusans')

# station names and axis labels
for c, name in enumerate(titles):
    fig.text(*px((col_x[c] + col_x[c + 1]) / 2, 24), name, ha='center', va='center',
             fontsize=23.5, family='DejaVu Sans')
for r, lab in enumerate(ylabels):
    yc = [175, 452, 715, 1008][r]
    fig.text(*px(36, yc), lab, rotation=90, ha='center', va='center', fontsize=23,
             math_fontfamily='cm')

# marker line through Jungfraujoch
fig.add_artist(Line2D([511 / W, 511 / W], [1 - 33 / H, 1 - 1143 / H], transform=fig.transFigure,
                      color='#4f81bd', lw=5.5, zorder=4))

LATO = ['Lato', 'DejaVu Sans']


def put(x, y, s, size, **kw):
    return fig.text(*px(x, y), s, ha='left', va='baseline', fontsize=size, family=LATO,
                    math_fontfamily='custom', **kw)


put(147, 255, 'Cloud droplet', 25)
put(147, 300, 'number', 25)
put(761, 363, 'Max', 25)
put(761, 407, 'supersaturation', 25)
put(755, 803, 'Sensitivity to', 25)
put(755, 847, 'aerosol number', 25)
put(147, 1077, 'Sensitivity to', 25)
put(147, 1120, 'updraft velocity', 25)

fig.add_artist(Rectangle(px(1031, 591), 496 / W, 310 / H, transform=fig.transFigure,
                         facecolor='#c6d9f1', edgecolor='none', zorder=5))
box_lines = ['Anticorrelation in the', 'sensitivities of CDNC', r'(N$_{\rm d}$) to aerosol number',
             r'(N$_{\rm a}$ ) and to updraft', 'velocity (w)']
for ln, yb in zip(box_lines, [333, 390, 448, 507, 562]):
    put(1051, yb, ln, 31, zorder=6)

for ln, yb in zip(['CDNC', 'calculated', 'from', 'observations', 'and from', 'models'],
                  [137, 194, 251, 308, 366, 424]):
    put(1636, yb, ln, 31.5)

for ln, yb in zip(['Nenes and', 'Seinfeld  JGR,', '2003 &', 'Fountoukis  and', 'Nenes, JGR, 2005'],
                  [489, 528, 567, 605, 644]):
    put(1655, yb, ln, 20.5, style='italic')

# updraft captions with a raised "-1"
renderer = fig.canvas.get_renderer()
for yb, label, col in [(770, 'For ω = 0.3ms', '#ff0000'), (1012, 'For ω = 0.6ms', '#339933')]:
    t = put(1636, yb, label, 25, color=col)
    bb = t.get_window_extent(renderer)
    fig.text(bb.x1 / W + 1 / W, 1 - (yb - 17) / H, '-1', ha='left', va='baseline',
             fontsize=15, family=LATO, color=col)

for y, x_from, x_to, col in [(705, 1825, 1603, '#ff0000'), (1026, 1822, 1600, '#339933')]:
    fig.add_artist(FancyArrowPatch(px(x_from, y), px(x_to, y), transform=fig.transFigure,
                                   arrowstyle='->,head_length=0.55,head_width=0.4',
                                   mutation_scale=25, color=col, lw=1.6, zorder=6))

fig.savefig('out.png', dpi=100)
